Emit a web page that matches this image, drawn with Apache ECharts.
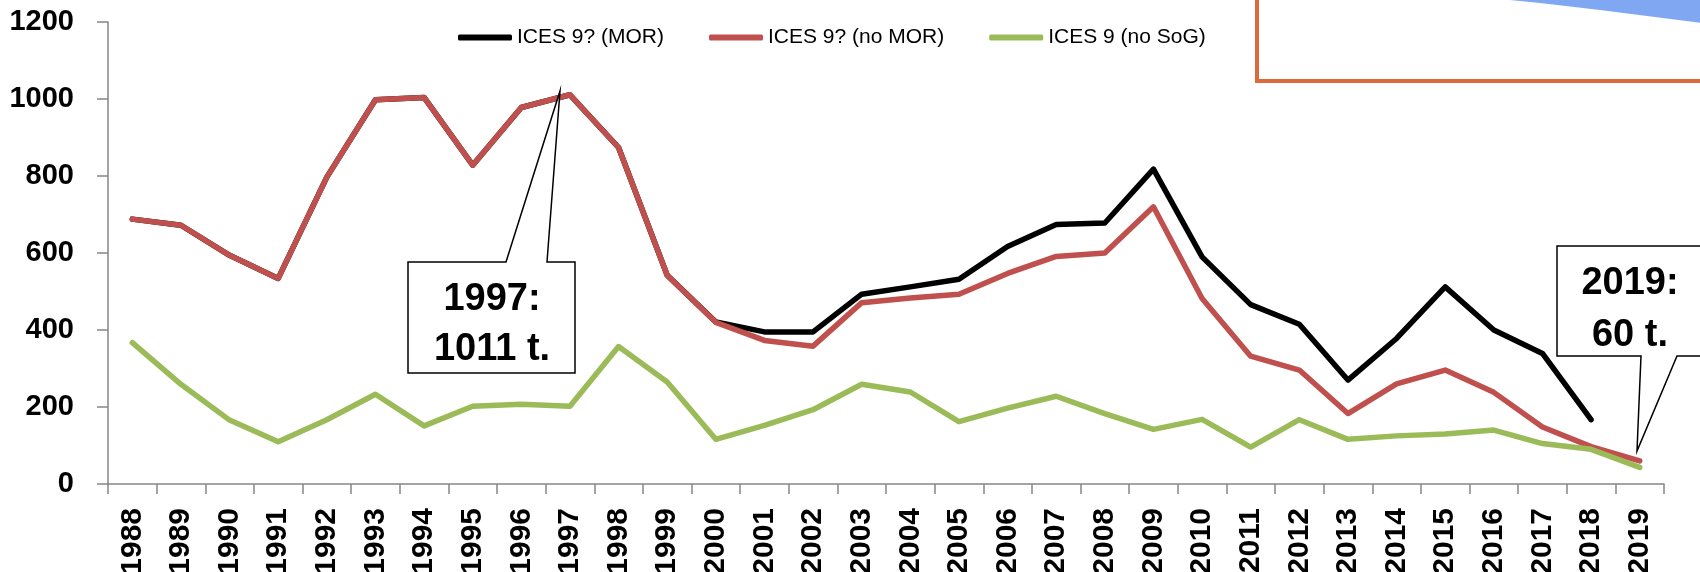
<!DOCTYPE html>
<html>
<head>
<meta charset="utf-8">
<script src="https://cdn.jsdelivr.net/npm/echarts@6/dist/echarts.min.js"></script>
<style>
html,body{margin:0;padding:0;background:#ffffff;}
#chart{width:1700px;height:572px;}
</style>
</head>
<body>
<div id="chart"></div>
<script>
// ---- data ----
const years = ['1988','1989','1990','1991','1992','1993','1994','1995','1996','1997',
  '1998','1999','2000','2001','2002','2003','2004','2005','2006','2007',
  '2008','2009','2010','2011','2012','2013','2014','2015','2016','2017','2018','2019'];

const seriesNames = ['ICES 9? (MOR)', 'ICES 9? (no MOR)', 'ICES 9 (no SoG)'];

const withMor = [688, 672, 594, 534, 797, 998, 1004, 828, 978, 1011,
  874, 542, 421, 395, 395, 493, 512, 532, 617, 674,
  678, 818, 590, 466, 415, 270, 378, 512, 400, 339, 167, null];

const noMor = [688, 672, 594, 534, 797, 998, 1004, 828, 978, 1011,
  874, 542, 420, 373, 358, 471, 483, 493, 547, 591,
  600, 720, 482, 332, 296, 183, 260, 296, 238, 148, 97, 60];

const noSoG = [367, 259, 166, 110, 167, 233, 151, 202, 207, 202,
  357, 265, 116, 152, 193, 259, 239, 162, 197, 228,
  183, 142, 168, 96, 167, 116, 125, 130, 140, 105, 90, 43];

const yMin = 0, yMax = 1200, yInterval = 200;

const callout1997 = ['1997:', '1011 t.'];
const callout2019 = ['2019:', '60 t.'];

// ---- chart ----
const FONT = '"Liberation Sans", Arial, sans-serif';
const colors = ['#000000', '#C0504D', '#9BBB59'];

const chart = echarts.init(document.getElementById('chart'), null, {renderer: 'canvas'});

function lineSeries(name, data, color) {
  return {
    name: name,
    type: 'line',
    data: data,
    symbol: 'none',
    showSymbol: false,
    connectNulls: false,
    animation: false,
    lineStyle: {color: color, width: 5.5, cap: 'round', join: 'round'},
    itemStyle: {color: color}
  };
}

const calloutStyle = {fill: '#ffffff', stroke: '#000000', lineWidth: 1.5};
const calloutFont = {fontFamily: FONT, fontSize: 38, fontWeight: 'bold', fill: '#000000', align: 'center', verticalAlign: 'middle'};

const option = {
  backgroundColor: '#ffffff',
  animation: false,
  color: colors,
  grid: {left: 108, right: 36, top: 22, bottom: 88, containLabel: false, outerBoundsMode: 'none'},
  legend: {
    left: 453, top: 22,
    icon: 'roundRect',
    itemWidth: 54, itemHeight: 6, itemGap: 45,
    textStyle: {fontFamily: FONT, fontSize: 21, color: '#000000'},
    data: seriesNames
  },
  xAxis: {
    type: 'category',
    data: years,
    boundaryGap: true,
    axisLine: {show: true, lineStyle: {color: '#868686', width: 1.5}},
    axisTick: {show: true, length: 10, alignWithLabel: false, lineStyle: {color: '#868686', width: 1.5}},
    axisLabel: {rotate: 90, margin: 24, interval: 0, fontFamily: FONT, fontSize: 30, fontWeight: 'bold', color: '#000000'},
    splitLine: {show: false}
  },
  yAxis: {
    type: 'value',
    min: yMin, max: yMax, interval: yInterval,
    axisLine: {show: true, lineStyle: {color: '#868686', width: 1.5}},
    axisTick: {show: true, length: 11, lineStyle: {color: '#868686', width: 1.5}},
    axisLabel: {margin: 34, fontFamily: FONT, fontSize: 29, fontWeight: 'bold', color: '#000000',
      formatter: function (v) { return String(v); }},
    splitLine: {show: false}
  },
  series: [
    lineSeries(seriesNames[0], withMor, colors[0]),
    lineSeries(seriesNames[1], noMor, colors[1]),
    lineSeries(seriesNames[2], noSoG, colors[2])
  ],
  graphic: [
    // picture inset at top-right (orange frame with blue shape)
    {type: 'rect', z: 50, shape: {x: 1257, y: -20, width: 520, height: 101},
     style: {fill: '#ffffff', stroke: '#DD6A3D', lineWidth: 4}},
    {type: 'polygon', z: 51, shape: {points: [[1500, -1], [1702, -1], [1702, 23], [1600, 10], [1540, 3]]},
     style: {fill: '#80A8F2'}},
    // 1997 callout
    {type: 'polygon', z: 60, shape: {points: [[408, 262], [506, 262], [560, 91], [547, 262], [575, 262], [575, 373], [408, 373]]},
     style: calloutStyle},
    {type: 'text', z: 61, x: 492, y: 300, style: Object.assign({text: callout1997[0]}, calloutFont)},
    {type: 'text', z: 61, x: 492, y: 350, style: Object.assign({text: callout1997[1]}, calloutFont)},
    // 2019 callout
    {type: 'polygon', z: 60, shape: {points: [[1557, 246], [1710, 246], [1710, 356], [1677, 356], [1637, 451], [1641, 356], [1557, 356]]},
     style: calloutStyle},
    {type: 'text', z: 61, x: 1630, y: 284, style: Object.assign({text: callout2019[0]}, calloutFont)},
    {type: 'text', z: 61, x: 1630, y: 336, style: Object.assign({text: callout2019[1]}, calloutFont)}
  ]
};

chart.setOption(option);
</script>
</body>
</html>
